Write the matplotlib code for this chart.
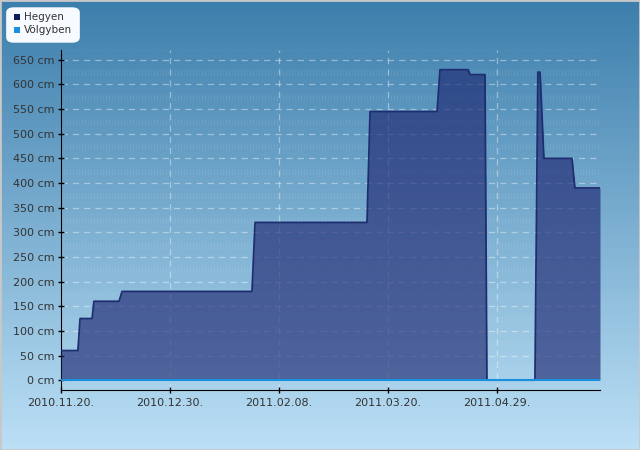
import numpy as np
import pandas as pd
import matplotlib
matplotlib.use("Agg")
import matplotlib.pyplot as plt
import matplotlib.dates as mdates
from matplotlib.patches import FancyBboxPatch, Rectangle
from matplotlib.ticker import FuncFormatter, MultipleLocator

# water level, "Hegyen" series (cm)
hegyen_times = [
    "2010-11-20 00:00", "2010-11-26 05:00", "2010-11-27 00:00", "2010-12-01 10:00",
    "2010-12-02 02:00", "2010-12-11 07:00", "2010-12-12 10:00", "2011-01-29 02:00",
    "2011-01-30 05:00", "2011-03-12 07:00", "2011-03-13 10:00", "2011-04-07 00:00",
    "2011-04-08 02:00", "2011-04-18 10:00", "2011-04-19 02:00", "2011-04-24 14:00",
    "2011-04-25 07:00", "2011-05-12 22:00", "2011-05-14 00:00", "2011-05-14 19:00",
    "2011-05-16 05:00", "2011-05-26 12:00", "2011-05-27 14:00", "2011-06-05 19:00",
]
hegyen_cm = [60, 60, 125, 125, 160, 160, 180, 180, 320, 320, 545, 545,
             630, 630, 620, 620, 0, 0, 625, 625, 450, 450, 390, 390]

# "Völgyben" series stays at zero
volgyben_times = ["2010-11-20 00:00", "2011-06-05 19:00"]
volgyben_cm = [0, 0]

tick_dates = ["2010-11-20", "2010-12-30", "2011-02-08", "2011-03-20", "2011-04-29"]
legend_labels = ["Hegyen", "Völgyben"]

t_h = pd.to_datetime(hegyen_times)
t_v = pd.to_datetime(volgyben_times)
ticks = pd.to_datetime(tick_dates)

fig = plt.figure(figsize=(6.4, 4.5), dpi=100)

# figure background gradient
bg = fig.add_axes([0, 0, 1, 1], zorder=-10)
top = np.array([60, 126, 172]) / 255
bot = np.array([188, 224, 246]) / 255
g = np.linspace(0, 1, 256)[:, None]
grad = top[None, None, :] * (1 - g[..., None]) + bot[None, None, :] * g[..., None]
bg.imshow(grad, aspect="auto", extent=[0, 1, 0, 1], origin="upper")
bg.add_patch(Rectangle((0, 0), 1, 1, transform=bg.transAxes, fill=False,
                       edgecolor="#c8c8c8", linewidth=2))
bg.set_axis_off()

ax = fig.add_axes([61 / 640, 1 - 390 / 450, 539 / 640, 340 / 450])
ax.patch.set_alpha(0)

ax.set_xlim(t_h[0], t_h[-1])
ax.set_ylim(-20, 670)

# faint vertical stripe texture in the plot area (bands between grid lines)
h_px, w_px = 340, 539
tex = np.zeros((h_px, w_px, 4))
ylo, yhi = ax.get_ylim()
row_val = yhi - (np.arange(h_px) + 0.5) / h_px * (yhi - ylo)
band = np.abs((row_val % 50) - 23) < 6
cols = (np.arange(w_px) % 3) == 0
tex[..., :3] = 1.0
tex[..., 3] = (band[:, None] & cols[None, :]) * 0.08
ax.imshow(tex, aspect="auto", extent=[0, 1, 0, 1], transform=ax.transAxes,
          zorder=0, interpolation="nearest")

ax.fill_between(t_h, hegyen_cm, 0, color="#1f2872", alpha=0.65, linewidth=0, zorder=3)
ax.plot(t_h, hegyen_cm, color="#1f2e70", linewidth=1.3, zorder=4)
ax.plot(t_v, volgyben_cm, color="#1a8fdc", linewidth=1.5, zorder=5)

ax.yaxis.set_major_locator(MultipleLocator(50))
ax.yaxis.set_major_formatter(FuncFormatter(lambda v, p: f"{int(v)} cm" if v >= 0 else ""))
ax.set_xticks(ticks)
ax.set_xticklabels([d.strftime("%Y.%m.%d.") for d in ticks], ha="center")

ax.grid(True, color="white", alpha=0.4, linestyle=(0, (5, 4)), linewidth=0.9, zorder=1)

for s in ["top", "right"]:
    ax.spines[s].set_visible(False)
ax.spines["left"].set_color("black")
ax.spines["bottom"].set_color("black")
ax.tick_params(axis="both", direction="inout", length=5, width=1,
               labelsize=8, labelcolor="#333333", pad=2)
ax.tick_params(axis="x", pad=3)

# legend box
bg.add_patch(FancyBboxPatch((10 / 640, 1 - 40 / 450), 66 / 640, 30 / 450,
                            boxstyle="round,pad=0.006,rounding_size=0.012",
                            facecolor="#f7fbff", edgecolor="none", zorder=5))
colors = ["#0d1a5e", "#1a90e0"]
for i, (lab, c) in enumerate(zip(legend_labels, colors)):
    y = 1 - (17 + i * 13) / 450
    bg.add_patch(Rectangle((14 / 640, y - 3 / 450), 6 / 640, 6 / 450,
                           facecolor=c, edgecolor="none", zorder=6))
    bg.text(24 / 640, y, lab, fontsize=7.5, color="#333333",
            va="center", ha="left", zorder=6)

fig.savefig("out.png", dpi=100)
